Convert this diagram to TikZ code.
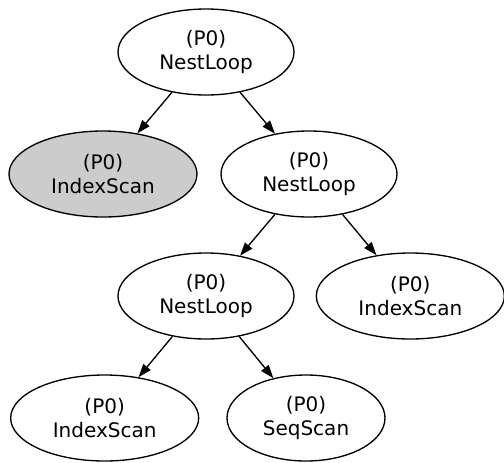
\documentclass[tikz,border=0pt]{standalone}
\usepackage{fontspec}
\setmainfont{DejaVu Sans}
\usetikzlibrary{arrows.meta,shapes.geometric,positioning}
\definecolor{scangray}{RGB}{204,204,204}

\begin{document}
\begin{tikzpicture}[x=0.75pt,y=-0.75pt,on grid,
		op/.style={ellipse, draw, line width=1pt, inner sep=0pt, minimum height=64.5pt,
			align=center, font=\fontsize{15}{17.5}\selectfont},
		nest/.style={op, minimum width=132pt},
		iscan/.style={op, minimum width=141pt},
		sscan/.style={op, minimum width=118.5pt}]
			\useasboundingbox (0,0) rectangle (504,462);

			\node[nest]                 (nl0) at (206,52)                      {(P0)\\NestLoop};
			\node[iscan, fill=scangray] (is0) [below left=91.5pt and 77.25pt of nl0]  {(P0)\\IndexScan};
			\node[nest]                 (nl1) [below right=91.5pt and 77.25pt of nl0] {(P0)\\NestLoop};
			\node[nest]                 (nl2) [below left=91.5pt and 77.25pt of nl1]  {(P0)\\NestLoop};
			\node[iscan]                (is1) [below right=91.5pt and 76pt of nl1]    {(P0)\\IndexScan};
			\node[iscan]                (is2) [below left=91.5pt and 76pt of nl2]     {(P0)\\IndexScan};
			\node[sscan]                (sq0) [below right=91.5pt and 75pt of nl2]    {(P0)\\SeqScan};

			\draw[line width=1pt, -{Triangle[length=10pt,width=7pt]}]
				(nl0) edge (is0)
				(nl0) edge (nl1)
				(nl1) edge (nl2)
				(nl1) edge (is1)
				(nl2) edge (is2)
				(nl2) edge (sq0);
		\end{tikzpicture}
\end{document}
